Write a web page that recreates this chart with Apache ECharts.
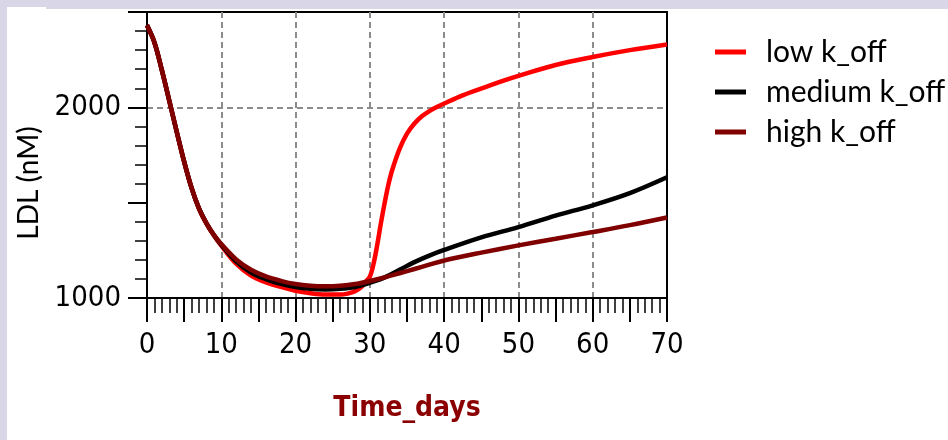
<!DOCTYPE html>
<html>
<head>
<meta charset="utf-8">
<script src="https://cdn.jsdelivr.net/npm/echarts@6/dist/echarts.min.js"></script>
<style>
html,body{margin:0;padding:0;background:#fff;}
#chart{width:948px;height:440px;}
</style>
</head>
<body>
<div id="chart"></div>
<script>
// ---- data ----
const seriesNames = ['low k_off', 'medium k_off', 'high k_off'];

const lowDays = [0,1,2,3,4,5,6,7,8,9,10,12,14,16,18,20,22,24,26,27,28,29,29.5,30,30.5,31,31.5,32,32.5,33,34,35,36,37,38,39,40,42,44,46,48,50,55,60,65,70];
const lowLDL  = [2430,2340,2195,2035,1872,1715,1576,1468,1390,1328,1275,1180,1118,1082,1058,1038,1025,1018,1018,1023,1035,1062,1088,1112,1180,1280,1395,1500,1595,1670,1782,1862,1915,1953,1980,2002,2020,2055,2085,2112,2140,2165,2222,2264,2300,2330];

const medDays = [0,1,2,3,4,5,6,7,8,9,10,12,14,16,18,20,22,24,26,28,30,32,34,36,38,40,45,50,55,60,65,70];
const medLDL  = [2430,2340,2195,2035,1872,1715,1577,1470,1392,1330,1279,1192,1134,1099,1074,1057,1048,1045,1048,1058,1080,1108,1148,1188,1222,1252,1318,1372,1432,1486,1550,1633];

const highDays = [0,1,2,3,4,5,6,7,8,9,10,12,14,16,18,20,22,24,26,28,30,32,34,36,38,40,45,50,55,60,65,70];
const highLDL  = [2430,2340,2195,2035,1872,1715,1578,1470,1393,1332,1283,1202,1148,1113,1090,1073,1064,1061,1064,1073,1089,1108,1130,1152,1175,1197,1238,1276,1311,1346,1382,1422];

const xTickLabels = ['0','10','20','30','40','50','60','70'];
const yTickLabels = ['1000','2000'];

function pairs(xs, ys) { return xs.map((x, i) => [x, ys[i]]); }

const tickFont = '"DejaVu Sans Condensed", "DejaVu Sans", sans-serif';
const textFont = 'Lato, "Noto Sans", sans-serif';
const gridDash = { color: '#8c8c8c', width: 2, type: [6, 4] };

const chart = echarts.init(document.getElementById('chart'), null, { renderer: 'canvas' });
chart.setOption({
  animation: false,
  backgroundColor: '#ffffff',
  graphic: [
    { type: 'rect', silent: true, z: -10, shape: { x: 0, y: 0, width: 948, height: 9 }, style: { fill: '#d9d6e7' } },
    { type: 'rect', silent: true, z: -10, shape: { x: 0, y: 0, width: 7, height: 440 }, style: { fill: '#d9d6e7' } },
    { type: 'rect', silent: true, z: -9, shape: { x: 7, y: 7, width: 39, height: 2 }, style: { fill: '#ffffff' } }
  ],
  grid: {
    left: 147, right: 281, top: 12, bottom: 142,
    show: true, borderColor: '#000', borderWidth: 2, backgroundColor: 'transparent'
  },
  legend: {
    data: seriesNames,
    orient: 'vertical',
    left: 710, top: 27,
    icon: 'rect',
    itemWidth: 31, itemHeight: 5, itemGap: 0,
    textStyle: { fontFamily: textFont, fontSize: 30, lineHeight: 40, color: '#000', padding: [0, 0, 0, 15] }
  },
  xAxis: [
    {
      type: 'value', min: 0, max: 70, interval: 10,
      name: 'Time_days', nameLocation: 'middle', nameGap: 97,
      nameTextStyle: { fontFamily: tickFont, fontSize: 28, fontWeight: 'bold', color: '#8b0000' },
      axisLine: { show: true, lineStyle: { color: '#000', width: 2 } },
      axisTick: { show: false },
      axisLabel: {
        margin: 33, fontFamily: tickFont, fontSize: 29, color: '#000',
        formatter: v => (xTickLabels.indexOf(String(v)) >= 0 ? String(v) : '')
      },
      splitLine: { show: true, showMinLine: false, showMaxLine: false, lineStyle: gridDash }
    },
    {
      type: 'value', min: 0, max: 70, interval: 5, position: 'bottom', offset: 0,
      axisLine: { show: true, lineStyle: { color: '#000', width: 2 } },
      axisTick: { show: true, inside: false, length: 24, lineStyle: { color: '#000', width: 2 } },
      minorTick: { show: true, splitNumber: 5, length: 15, lineStyle: { color: '#000', width: 1.5 } },
      axisLabel: { show: false },
      splitLine: { show: false }
    }
  ],
  yAxis: [
    {
      type: 'value', min: 1000, max: 2500, interval: 1000,
      name: 'LDL (nM)', nameLocation: 'middle', nameGap: 104, nameRotate: 90,
      nameTextStyle: { fontFamily: textFont, fontSize: 28, color: '#000', padding: [0, 56, 0, 0] },
      axisLine: { show: true, lineStyle: { color: '#000', width: 2 } },
      axisTick: { show: false },
      axisLabel: {
        margin: 26, fontFamily: tickFont, fontSize: 29, color: '#000',
        formatter: v => (yTickLabels.indexOf(String(v)) >= 0 ? String(v) : '')
      },
      splitLine: { show: true, showMinLine: false, showMaxLine: false, lineStyle: gridDash }
    },
    {
      type: 'value', min: 1000, max: 2500, interval: 500, position: 'left', offset: 0,
      axisLine: { show: true, lineStyle: { color: '#000', width: 2 } },
      axisTick: { show: true, inside: false, length: 19, lineStyle: { color: '#000', width: 2 } },
      minorTick: { show: true, splitNumber: 5, length: 12, lineStyle: { color: '#000', width: 1.5 } },
      axisLabel: { show: false },
      splitLine: { show: false }
    }
  ],
  series: [
    {
      name: seriesNames[0], type: 'line', xAxisIndex: 0, yAxisIndex: 0,
      data: pairs(lowDays, lowLDL), showSymbol: false, smooth: 0.35,
      lineStyle: { color: '#ff0000', width: 4.5 }, itemStyle: { color: '#ff0000' }, z: 3
    },
    {
      name: seriesNames[1], type: 'line', xAxisIndex: 0, yAxisIndex: 0,
      data: pairs(medDays, medLDL), showSymbol: false, smooth: 0.35,
      lineStyle: { color: '#000000', width: 4.5 }, itemStyle: { color: '#000000' }, z: 4
    },
    {
      name: seriesNames[2], type: 'line', xAxisIndex: 0, yAxisIndex: 0,
      data: pairs(highDays, highLDL), showSymbol: false, smooth: 0.35,
      lineStyle: { color: '#800000', width: 4.5 }, itemStyle: { color: '#800000' }, z: 5
    }
  ]
});
</script>
</body>
</html>
